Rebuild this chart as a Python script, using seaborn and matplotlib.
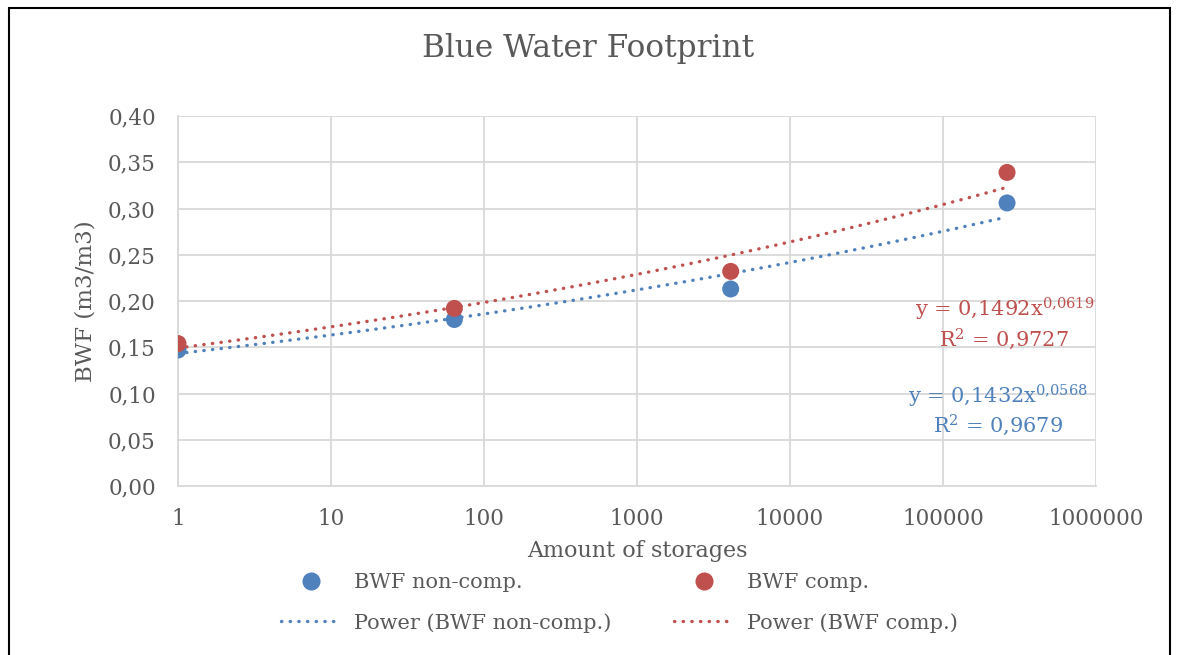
import numpy as np
import pandas as pd
import matplotlib
matplotlib.use("Agg")
import matplotlib.pyplot as plt
from matplotlib.ticker import FuncFormatter, FixedLocator
from matplotlib.lines import Line2D
from matplotlib.patches import Rectangle
import seaborn as sns

# ---- data ----
storages = [1, 64, 4096, 262144]
bwf_noncomp = [0.147, 0.180, 0.213, 0.306]
bwf_comp = [0.154, 0.192, 0.232, 0.339]
series_names = ["BWF non-comp.", "BWF comp."]
trend_names = ["Power (BWF non-comp.)", "Power (BWF comp.)"]
fit_coef = [0.1432, 0.1492]
fit_exp = [0.0568, 0.0619]
fit_r2 = ["0,9679", "0,9727"]
x_ticks = [1, 10, 100, 1000, 10000, 100000, 1000000]
y_ticks = [0.0, 0.05, 0.10, 0.15, 0.20, 0.25, 0.30, 0.35, 0.40]

BLUE = "#4F81BD"
RED = "#C0504D"
TXT = "#595959"
GRID = "#D9D9D9"
DOTS = (0, (0.1, 2.5))

sns.set_theme(style="white")
plt.rcParams['font.family'] = ['DejaVu Serif']
plt.rcParams['mathtext.fontset'] = 'dejavuserif'

fig = plt.figure(figsize=(11.77, 6.55), dpi=100)
ax = fig.add_axes([178/1177, 1-486/655, (1096-178)/1177, (486-116)/655])

df = pd.DataFrame({"x": storages * 2,
                   "y": bwf_noncomp + bwf_comp,
                   "s": [series_names[0]] * 4 + [series_names[1]] * 4})

# power trend lines (from the displayed fit coefficients)
xs = np.logspace(np.log10(storages[0]), np.log10(storages[-1]), 200)
tr = pd.DataFrame({"x": np.concatenate([xs, xs]),
                   "y": np.concatenate([fit_coef[0] * xs ** fit_exp[0], fit_coef[1] * xs ** fit_exp[1]]),
                   "s": [trend_names[0]] * len(xs) + [trend_names[1]] * len(xs)})
for name, col in zip(trend_names, [BLUE, RED]):
    sub = tr[tr.s == name]
    sns.lineplot(data=sub, x="x", y="y", ax=ax, color=col, lw=2.4,
                 linestyle=DOTS, dash_capstyle="round", legend=False, zorder=3)

sns.scatterplot(data=df, x="x", y="y", hue="s", palette=[BLUE, RED], s=150,
                edgecolor="none", ax=ax, legend=False, zorder=4)

ax.set_xscale("log")
ax.set_xlim(1, 1000000)
ax.set_ylim(0, 0.40)
ax.xaxis.set_major_locator(FixedLocator(x_ticks))
ax.xaxis.set_minor_locator(FixedLocator([]))
ax.yaxis.set_major_locator(FixedLocator(y_ticks))
ax.xaxis.set_major_formatter(FuncFormatter(lambda v, p: f"{int(round(v))}"))
ax.yaxis.set_major_formatter(FuncFormatter(lambda v, p: f"{v:.2f}".replace(".", ",")))
ax.grid(True, color=GRID, lw=1.3)
ax.set_axisbelow(True)
for side in ["top", "right"]:
    ax.spines[side].set_visible(False)
for side in ["left", "bottom"]:
    ax.spines[side].set_color(GRID)
    ax.spines[side].set_linewidth(1.3)
ax.tick_params(axis="y", colors=TXT, labelsize=15.5, length=0, pad=16)
ax.tick_params(axis="x", colors=TXT, labelsize=15.5, length=0, pad=16)
ax.set_xlabel("Amount of storages", color=TXT, fontsize=16, labelpad=7)
ax.set_ylabel("BWF (m3/m3)", color=TXT, fontsize=16.5, labelpad=8)

fig.text(0.5, 1 - 48/655, "Blue Water Footprint", ha="center", va="center", color=TXT, fontsize=22.5)

# equations
ax.text(0.90, 0.438, r"y = 0,1492x$^{0{,}0619}$" + "\n" + r"R$^2$ = 0,9727", transform=ax.transAxes,
        ha="center", va="center", color=RED, fontsize=15, linespacing=1.15)
ax.text(0.893, 0.205, r"y = 0,1432x$^{0{,}0568}$" + "\n" + r"R$^2$ = 0,9679", transform=ax.transAxes,
        ha="center", va="center", color=BLUE, fontsize=15, linespacing=1.15)

handles = [
    Line2D([], [], marker="o", color=BLUE, ls="none", markersize=12),
    Line2D([], [], color=BLUE, lw=2.4, ls=DOTS, dash_capstyle="round"),
    Line2D([], [], marker="o", color=RED, ls="none", markersize=12),
    Line2D([], [], color=RED, lw=2.4, ls=DOTS, dash_capstyle="round"),
]
labels = [series_names[0], trend_names[0], series_names[1], trend_names[1]]
leg = fig.legend(handles, labels, ncol=2, loc="center left", bbox_to_anchor=(281/1177, 1 - 603/655),
                 frameon=False, fontsize=15, labelcolor=TXT, handlelength=2.9,
                 columnspacing=3.0, handletextpad=0.6, labelspacing=1.0,
                 borderpad=0, borderaxespad=0)

fig.patches.append(Rectangle((9/1177, -0.05), (1170-9)/1177, 1.05 - 8/655, transform=fig.transFigure,
                             fill=False, edgecolor="black", lw=1.5))

fig.savefig("out.png", dpi=100, facecolor="white")
